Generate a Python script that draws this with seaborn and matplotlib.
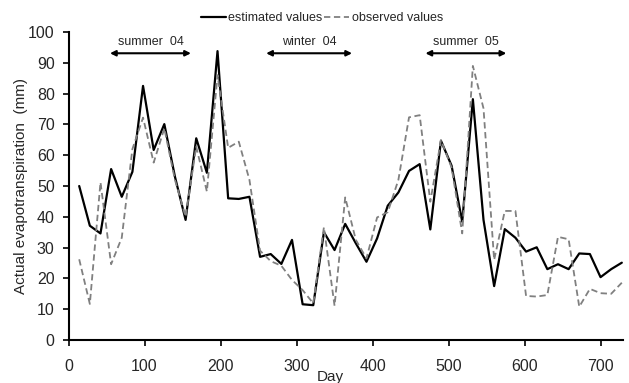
import numpy as np
import pandas as pd
import matplotlib
matplotlib.use("Agg")
import matplotlib.pyplot as plt
import seaborn as sns
from matplotlib.lines import Line2D

days = [14 * k for k in range(1, 53)]
estimated = [50, 37.1, 34.6, 55.5, 46.5, 54.6, 82.5, 61.7, 70.1, 53,
             39, 65.5, 54.3, 93.8, 46, 45.8, 46.5, 27, 27.9, 24.7,
             32.5, 11.6, 11.3, 35, 29.2, 37.7, 31.4, 25.4, 33, 43.6,
             47.9, 54.9, 57.1, 35.9, 64.7, 56.6, 38.4, 78.2, 39, 17.5,
             36, 33.2, 28.7, 30.1, 23, 24.6, 23, 28.1, 27.9, 20.4,
             23, 25.1]
observed = [26.2, 11.7, 51.2, 24.6, 33.2, 62, 72.2, 57.6, 68.7, 52,
            40, 62.8, 48.2, 86, 62.4, 64.4, 52, 29, 25.6, 24.1,
            19.5, 16.2, 11.9, 36.6, 11.1, 46.3, 32.5, 26.5, 39.8, 41.5,
            52, 72.3, 73, 44.9, 64.9, 56, 34.6, 89, 75.2, 26,
            41.9, 41.9, 14.3, 14.1, 14.6, 33.5, 32.7, 10.8, 16.6, 15.2,
            15, 18.6]
series_names = ["estimated values", "observed values"]
periods = ["summer  04", "winter  04", "summer  05"]
period_start = [54.5, 260, 469.6]
period_end = [161, 373, 576]

df = pd.concat([
    pd.DataFrame({"Day": days, "value": estimated, "series": series_names[0]}),
    pd.DataFrame({"Day": days, "value": observed, "series": series_names[1]}),
])

sns.set_style("ticks")
plt.rcParams["font.family"] = ["Liberation Sans", "DejaVu Sans"]

fig = plt.figure(figsize=(6.29, 3.83), dpi=100)
ax = fig.add_axes([0.109, 0.1123, 0.882, 0.8041])

sns.lineplot(data=df, x="Day", y="value", hue="series", style="series",
             palette={series_names[0]: "black", series_names[1]: "#808080"},
             dashes={series_names[0]: "", series_names[1]: (3.5, 2)},
             ax=ax, legend=False)
for line, lw in zip(ax.get_lines(), [1.6, 1.3]):
    line.set_linewidth(lw)

ax.set_xlim(0, 730)
ax.set_ylim(0, 100)
ax.set_xticks(range(0, 701, 100))
ax.set_yticks(range(0, 101, 10))
ax.tick_params(axis="both", labelsize=11.5, length=4, width=1.2, direction="out", color="black")
ax.tick_params(axis="y", pad=6)
ax.tick_params(axis="x", pad=10)
for s in ["left", "bottom"]:
    ax.spines[s].set_linewidth(1.5)
    ax.spines[s].set_color("black")
sns.despine(ax=ax)

ax.set_xlabel("Day", fontsize=11)
ax.xaxis.label.set_va("top")
ax.xaxis.set_label_coords(0.471, -0.097)
ax.set_ylabel("Actual evapotranspiration  (mm)", fontsize=11)
ax.yaxis.label.set_va("center")
ax.yaxis.set_label_coords(-0.086, 0.5)

for name, a, b in zip(periods, period_start, period_end):
    ax.annotate("", xy=(a, 93.1), xytext=(b, 93.1),
                arrowprops=dict(arrowstyle="<|-|>", color="black", lw=1.5,
                                mutation_scale=8, shrinkA=0, shrinkB=0))
    ax.text((a + b) / 2, 96.9, name, ha="center", va="center", fontsize=9)

handles = [Line2D([], [], color="black", lw=1.6),
           Line2D([], [], color="#808080", lw=1.3, dashes=(3.5, 2))]
fig.legend(handles, series_names, loc="center", bbox_to_anchor=(0.512, 0.953),
           ncol=2, frameon=False, fontsize=9, handlelength=2.0,
           handletextpad=0.2, columnspacing=0.15)

fig.savefig("out.png", dpi=100)
